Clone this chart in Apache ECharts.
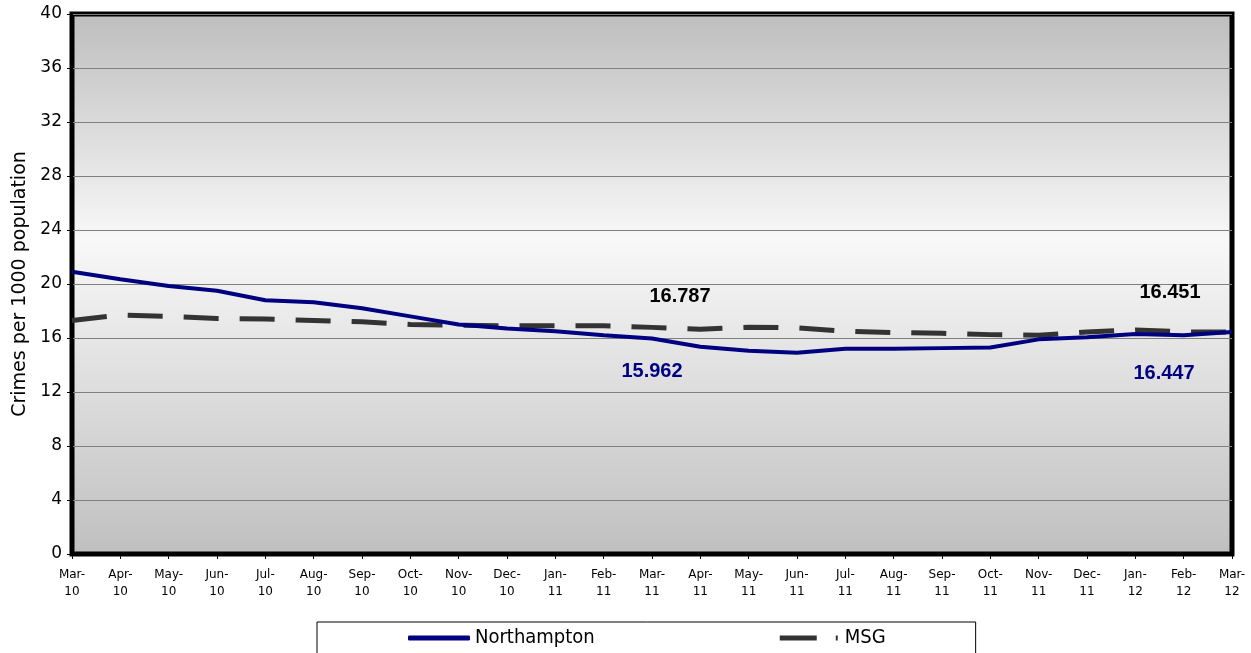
<!DOCTYPE html>
<html>
<head>
<meta charset="utf-8">
<script src="https://cdn.jsdelivr.net/npm/echarts@6/dist/echarts.min.js"></script>
<style>
  html, body { margin: 0; padding: 0; background: #fff; }
  #chart { width: 1251px; height: 653px; }
</style>
</head>
<body>
<div id="chart"></div>
<script>
var months = ['Mar-\n10', 'Apr-\n10', 'May-\n10', 'Jun-\n10', 'Jul-\n10', 'Aug-\n10', 'Sep-\n10', 'Oct-\n10',
  'Nov-\n10', 'Dec-\n10', 'Jan-\n11', 'Feb-\n11', 'Mar-\n11', 'Apr-\n11', 'May-\n11', 'Jun-\n11', 'Jul-\n11',
  'Aug-\n11', 'Sep-\n11', 'Oct-\n11', 'Nov-\n11', 'Dec-\n11', 'Jan-\n12', 'Feb-\n12', 'Mar-\n12']

var northampton = [20.9, 20.35, 19.85, 19.5, 18.8, 18.65, 18.2, 17.6, 17.0, 16.7, 16.5, 16.2, 15.962,
  15.35, 15.05, 14.9, 15.2, 15.2, 15.25, 15.3, 15.9, 16.05, 16.3, 16.2, 16.447]

var msg = [17.3, 17.7, 17.6, 17.45, 17.4, 17.3, 17.2, 17.0, 16.95, 16.9, 16.9, 16.9, 16.787,
  16.65, 16.8, 16.75, 16.5, 16.4, 16.35, 16.25, 16.2, 16.45, 16.6, 16.45, 16.451]

var labelled = [12, 24]

// label offsets for the two labelled months (Mar-11, Mar-12)
function withLabels(values, color, pos, offsets) {
  return values.map(function (v, i) {
    var k = labelled.indexOf(i)
    if (k < 0) return v
    return {
      value: v,
      label: {
        show: true,
        position: pos,
        distance: 20,
        offset: offsets[k],
        color: color,
        fontFamily: 'Liberation Sans, Arial, sans-serif',
        fontWeight: 'bold',
        fontSize: 20,
        formatter: function (p) { return p.value.toFixed(3) }
      }
    }
  })
}

var chart = echarts.init(document.getElementById('chart'))
chart.setOption({
  animation: false,
  textStyle: { fontFamily: 'DejaVu Sans, Verdana, sans-serif' },
  grid: {
    left: 72,
    top: 14,
    right: 19,
    bottom: 99,
    show: true,
    borderColor: '#000',
    borderWidth: 5,
    backgroundColor: new echarts.graphic.LinearGradient(0, 0, 0, 1, [
      { offset: 0, color: '#bdbdbd' },
      { offset: 0.42, color: '#f8f8f8' },
      { offset: 1, color: '#bfbfbf' }
    ])
  },
  legend: {
    left: 317,
    top: 622,
    itemGap: 185,
    itemWidth: 62,
    itemHeight: 5,
    padding: [6, 90, 30, 91],
    borderColor: '#000',
    borderWidth: 1,
    backgroundColor: '#fff',
    textStyle: { fontSize: 20, color: '#000', fontFamily: 'DejaVu Sans Condensed, DejaVu Sans, sans-serif' },
    data: [
      { name: 'Northampton', icon: 'roundRect', itemStyle: { color: '#000080' } },
      { name: 'MSG', icon: 'path://M0,0h37v5h-37z M56,0h2v5h-2z', itemStyle: { color: '#333333' } }
    ]
  },
  xAxis: {
    type: 'category',
    data: months,
    boundaryGap: false,
    axisLine: { lineStyle: { color: '#000', width: 1 } },
    axisTick: { show: true, length: 5, lineStyle: { color: '#000' } },
    axisLabel: { fontSize: 12, color: '#000', lineHeight: 17, margin: 12, interval: 0 }
  },
  yAxis: {
    type: 'value',
    min: 0,
    max: 40,
    interval: 4,
    name: 'Crimes per 1000 population',
    nameLocation: 'middle',
    nameGap: 42,
    nameTextStyle: { fontSize: 19, color: '#000' },
    axisLine: { show: true, lineStyle: { color: '#000' } },
    axisTick: { show: true, length: 5, lineStyle: { color: '#000' } },
    axisLabel: { fontSize: 17, color: '#000', margin: 10 },
    splitLine: { lineStyle: { color: '#808080', width: 1 } }
  },
  series: [
    {
      name: 'Northampton',
      type: 'line',
      symbol: 'circle',
      symbolSize: 0,
      showSymbol: true,
      color: '#000080',
      lineStyle: { color: '#000080', width: 4 },
      z: 3,
      data: withLabels(northampton, '#000080', 'bottom', [[0, 3], [-68, 12]])
    },
    {
      name: 'MSG',
      type: 'line',
      symbol: 'circle',
      symbolSize: 0,
      showSymbol: true,
      color: '#333333',
      lineStyle: { color: '#333333', width: 5, type: [35, 21] },
      z: 2,
      data: withLabels(msg, '#000', 'top', [[28, -1], [-62, -9]])
    }
  ]
})
</script>
</body>
</html>
